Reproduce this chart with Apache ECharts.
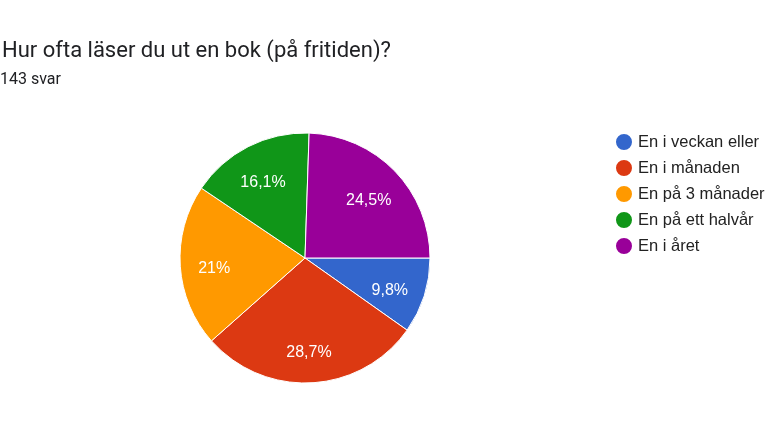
<!DOCTYPE html>
<html>
<head>
<meta charset="utf-8">
<script src="https://cdn.jsdelivr.net/npm/echarts@6/dist/echarts.min.js"></script>
<style>html,body{margin:0;padding:0;background:#fff;}#c{width:767px;height:431px;}</style>
</head>
<body>
<div id="c"></div>
<script>
var titleText = 'Hur ofta läser du ut en bok (på fritiden)?';
var subText = '143 svar';
var categories = ['En i veckan eller', 'En i månaden', 'En på 3 månader', 'En på ett halvår', 'En i året'];
var counts = [14, 41, 30, 23, 35];
var colors = ['#3366CC', '#DC3912', '#FF9900', '#109618', '#990099'];

var total = counts.reduce(function (a, b) { return a + b; }, 0);
function pctLabel(v) {
  var s = (v / total * 100).toFixed(1);
  if (s.slice(-2) === '.0') s = s.slice(0, -2);
  return s.replace('.', ',') + '%';
}
var data = categories.map(function (n, i) { return { name: n, value: counts[i] }; });

var chart = echarts.init(document.getElementById('c'), null, { renderer: 'canvas' });
chart.setOption({
  animation: false,
  color: colors,
  title: [
    { text: titleText, left: 2, top: 40, padding: 0, textStyle: { fontFamily: 'Roboto', fontSize: 22, fontWeight: 'normal', color: '#202124' } },
    { text: subText, left: 0, top: 72, padding: 0, textStyle: { fontFamily: 'Roboto', fontSize: 16, fontWeight: 'normal', color: '#202124' } }
  ],
  legend: {
    orient: 'vertical',
    left: 609,
    top: 127,
    icon: 'circle',
    itemWidth: 18,
    itemHeight: 18,
    itemGap: 6,
    data: categories,
    textStyle: { fontFamily: '"Liberation Sans", Arial', fontSize: 16.5, color: '#222222' }
  },
  series: [
    {
      type: 'pie',
      center: [305, 258],
      radius: [0, 125],
      startAngle: 0,
      clockwise: true,
      data: data,
      label: { show: false },
      labelLine: { show: false },
      itemStyle: { borderColor: '#ffffff', borderWidth: 1 },
      emphasis: { disabled: true }
    },
    {
      type: 'pie',
      center: [304, 263],
      radius: [53, 121],
      startAngle: 0,
      clockwise: true,
      silent: true,
      data: data,
      itemStyle: { color: 'rgba(0,0,0,0)' },
      label: {
        show: true,
        position: 'inside',
        formatter: function (p) { return pctLabel(p.value); },
        fontFamily: '"Liberation Sans", Arial',
        fontSize: 16,
        color: '#ffffff'
      },
      labelLine: { show: false },
      emphasis: { disabled: true }
    }
  ]
});
</script>
</body>
</html>
